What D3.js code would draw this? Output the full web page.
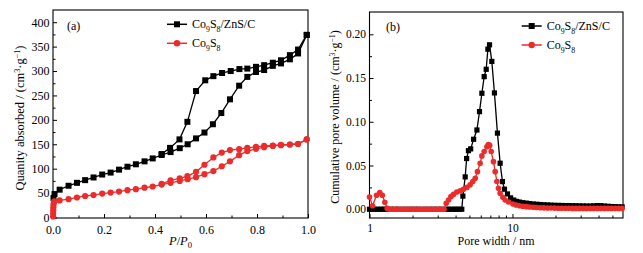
<!DOCTYPE html>
<html><head><meta charset="utf-8">
<script src="https://cdn.jsdelivr.net/npm/d3@7/dist/d3.min.js"></script>
<style>
html,body{margin:0;padding:0;background:#fff;}
svg{display:block;}
text{font-family:"Liberation Serif","Times New Roman",serif;fill:#000;}
</style></head><body>
<svg id="chart" width="643" height="253"></svg>
<script>
// ---------- Panel (a): N2 adsorption/desorption isotherms ----------
const aTicksX = [0, 0.2, 0.4, 0.6, 0.8, 1.0];
const aMinorX = [0.1, 0.3, 0.5, 0.7, 0.9];
const aTicksY = [0, 50, 100, 150, 200, 250, 300, 350, 400];
const aMinorY = [25, 75, 125, 175, 225, 275, 325, 375];

const czAdsP = [0.002,0.006,0.026,0.061,0.094,0.126,0.159,0.193,0.226,0.259,0.292,0.325,0.359,0.391,0.426,0.461,0.497,0.528,0.561,0.594,0.627,0.660,0.694,0.730,0.762,0.796,0.828,0.862,0.894,0.929,0.961,0.995];
const czAdsV = [40,48,57,65,71,76.5,82,88,92,98,104,109,115,121,128,134,142,150,162,174,191,214,242,270,288,298,302,310.6,315.6,324,336,374];
const czDesP = [0.995,0.961,0.929,0.894,0.862,0.828,0.796,0.762,0.731,0.697,0.663,0.629,0.597,0.561,0.527,0.496,0.459,0.426];
const czDesV = [374,344,332.5,322,317,312,308.6,305,304,300,296,289.5,281,259,196,160,142.6,130];

const coAdsP = [0.0003,0.0006,0.001,0.0015,0.002,0.003,0.005,0.026,0.061,0.094,0.126,0.159,0.193,0.226,0.259,0.292,0.325,0.359,0.391,0.426,0.461,0.497,0.528,0.561,0.594,0.629,0.662,0.694,0.730,0.762,0.796,0.828,0.862,0.894,0.929,0.961,0.995];
const coAdsV = [2,8,15,21,26,30,33,35,37.5,41,44,46,49,51,53,56,58,61,63.5,67.5,71,75,78.5,82.6,88.7,95,105,115,127.7,136,140.7,144,146.5,148,149.5,151,160];
const coDesP = [0.995,0.961,0.929,0.894,0.862,0.828,0.796,0.762,0.730,0.694,0.662,0.629,0.594,0.561,0.527,0.497,0.461,0.426];
const coDesV = [160,150.5,149.5,148.8,147.5,146.7,144.7,142.6,140,138,133,123,108,93.5,84.6,80,76,69];

// ---------- Panel (b): pore size distribution ----------
const bTicksX = [1, 10];
const bMinorX = [2,3,4,5,6,7,8,9,20,30,40,50];
const bTicksY = [0, 0.05, 0.10, 0.15, 0.20];
const bMinorY = [0.025, 0.075, 0.125, 0.175];

const czPoreW = [1.0,1.04,1.09,1.14,1.2,1.25,1.3,1.4,1.5,1.6,1.75,1.9,2.05,2.2,2.4,2.6,2.8,3.0,3.2,3.45,3.6,3.77,3.95,4.08,4.25,4.42,4.5,4.67,4.78,4.92,5.1,5.35,5.64,5.88,6.11,6.34,6.55,6.73,6.91,7.17,7.48,7.85,8.2,8.51,8.79,9.23,9.7,10.2,10.7,11.2,11.8,12.5,13.2,14,14.8,15.7,16.6,17.6,18.6,19.7,20.9,22.1,23.4,24.8,26.3,27.8,29.4,31.2,33,35,37,39.2,41.5,44,46.6,49.3,52.2,55.3,58.5];
const czPoreV = [0,0,0,0,0,0,0,0,0,0,0,0,0,0,0,0,0,0,0,0,0,0,0,0,0,0,0.015,0.037,0.058,0.067,0.069,0.080,0.0906,0.1116,0.1326,0.1516,0.160,0.183,0.188,0.169,0.133,0.087,0.0526,0.0316,0.0229,0.0175,0.013,0.0105,0.009,0.0082,0.0075,0.007,0.0065,0.006,0.0057,0.0054,0.0051,0.0049,0.0047,0.0045,0.0044,0.0043,0.0042,0.0042,0.0041,0.004,0.0039,0.0038,0.0037,0.0037,0.0039,0.0042,0.0041,0.0037,0.0034,0.0031,0.003,0.0028,0.0027];

const coPoreW = [1.0,1.05,1.12,1.18,1.23,1.28,1.33,1.38,1.43,1.48,1.53,1.59,1.65,1.71,1.77,1.84,1.91,1.98,2.05,2.13,2.21,2.29,2.38,2.47,2.56,2.66,2.76,2.86,2.97,3.08,3.2,3.32,3.44,3.57,3.71,3.87,4.08,4.31,4.54,4.80,5.06,5.28,5.49,5.69,5.94,6.11,6.34,6.62,6.78,6.93,7.1,7.36,7.57,7.78,7.98,8.2,8.57,8.89,9.38,10.07,10.6,11.2,11.8,12.5,13.2,14,14.8,15.7,16.6,17.6,18.6,19.7,20.9,22.1,23.4,24.8,26.3,27.8,29.4,31.2,33,35,37,39.2,41.5,44,46.6,49.3,52.2,55.3,58.5];
const coPoreV = [0.014,0.004,0.016,0.019,0.016,0.008,0.001,0,0,0,0,0,0,0,0,0,0,0,0,0,0,0,0,0,0,0,0,0,0,0,0,0,0.0069,0.0106,0.0144,0.017,0.0198,0.021,0.0229,0.025,0.0279,0.0317,0.0354,0.043,0.0526,0.061,0.066,0.0715,0.074,0.073,0.066,0.0544,0.043,0.0317,0.024,0.0183,0.0137,0.0106,0.0083,0.006,0.0048,0.004,0.0034,0.003,0.0026,0.0023,0.002,0.0018,0.0016,0.0015,0.0014,0.0013,0.0012,0.0012,0.0011,0.0011,0.001,0.001,0.001,0.001,0.001,0.001,0.001,0.001,0.001,0.001,0.001,0.001,0.001,0.001,0.001];

const BLACK = "#000", RED = "#ec2b2b";
const svg = d3.select("#chart");
svg.append("rect").attr("width",643).attr("height",253).attr("fill","#fff");

function zip(a,b){ return a.map((v,i)=>[v,b[i]]); }

function frameAndAxes(g, x, y, L, R, T, B, opts){
  g.append("g").attr("transform",`translate(0,${B})`)
    .call(d3.axisBottom(x).tickValues(opts.xt).tickSize(-4).tickPadding(opts.xp).tickFormat(opts.xf));
  g.append("g").attr("transform",`translate(0,${B})`)
    .call(d3.axisBottom(x).tickValues(opts.xm).tickSize(-2.5).tickFormat(""));
  g.append("g").attr("transform",`translate(${L},0)`)
    .call(d3.axisLeft(y).tickValues(opts.yt).tickSize(-4).tickPadding(3.5).tickFormat(opts.yf));
  g.append("g").attr("transform",`translate(${L},0)`)
    .call(d3.axisLeft(y).tickValues(opts.ym).tickSize(-2.5).tickFormat(""));
  g.selectAll(".domain").remove();
  g.selectAll(".tick line").attr("stroke","#000").attr("stroke-width",1);
  g.selectAll(".tick text").style("font-family",'"Liberation Serif",serif').style("font-size",opts.fs+"px").attr("fill","#000");
  g.append("rect").attr("x",L).attr("y",T).attr("width",R-L).attr("height",B-T)
    .attr("fill","none").attr("stroke","#000").attr("stroke-width",1.1);
}

function drawSeries(g, x, y, pts, color, shape, sz){
  const line = d3.line().x(d=>x(d[0])).y(d=>y(d[1]));
  g.append("path").datum(pts).attr("d",line).attr("fill","none").attr("stroke",color).attr("stroke-width",1.3);
  if(shape==="square"){
    g.selectAll(null).data(pts).enter().append("rect")
      .attr("x",d=>x(d[0])-sz/2).attr("y",d=>y(d[1])-sz/2).attr("width",sz).attr("height",sz).attr("fill",color);
  } else {
    g.selectAll(null).data(pts).enter().append("circle")
      .attr("cx",d=>x(d[0])).attr("cy",d=>y(d[1])).attr("r",sz/2).attr("fill",color);
  }
}

function chem(textSel, parts, fs){
  let prev = 'n';
  parts.forEach(([t,k])=>{
    const ts = textSel.append("tspan").text(t);
    let dy = 0;
    const off = fs*0.3;
    if(prev==='sub') dy -= off; if(prev==='sup') dy += off*1.2;
    if(k==='sub') dy += off; if(k==='sup') dy -= off*1.2;
    if(dy!==0) ts.attr("dy",dy);
    ts.style("font-size",(k==='n'?fs:fs*0.65)+"px");
    prev = k;
  });
}

function legend(g, x0, y0, dy, fs){
  const items = [
    {c:BLACK, s:"square", parts:[["Co",'n'],["9",'sub'],["S",'n'],["8",'sub'],["/ZnS/C",'n']]},
    {c:RED, s:"circle", parts:[["Co",'n'],["9",'sub'],["S",'n'],["8",'sub']]}
  ];
  items.forEach((it,i)=>{
    const yy = y0 + i*dy;
    g.append("line").attr("x1",x0).attr("x2",x0+20).attr("y1",yy).attr("y2",yy).attr("stroke",it.c).attr("stroke-width",1.5);
    if(it.s==="square") g.append("rect").attr("x",x0+10-3).attr("y",yy-3).attr("width",6).attr("height",6).attr("fill",it.c);
    else g.append("circle").attr("cx",x0+10).attr("cy",yy).attr("r",3.2).attr("fill",it.c);
    const t = g.append("text").attr("x",x0+25).attr("y",yy+4).style("font-size",fs+"px");
    chem(t, it.parts, fs);
  });
}

// ---------- Panel (a) ----------
{
  const L=53, R=308, T=10, B=218;
  const x = d3.scaleLinear().domain([0,1]).range([L,R]);
  const y = d3.scaleLinear().domain([0,425]).range([217.5,10]);
  const g = svg.append("g");
  frameAndAxes(g,x,y,L,R,T,B,{xt:aTicksX,xm:aMinorX,yt:aTicksY,ym:aMinorY,
    xf:d3.format(".1f"), yf:d3.format("d"), fs:12, xp:7});
  drawSeries(g,x,y,zip(czAdsP,czAdsV),BLACK,"square",6);
  drawSeries(g,x,y,zip(czDesP,czDesV),BLACK,"square",6);
  drawSeries(g,x,y,zip(coAdsP,coAdsV),RED,"circle",6.2);
  drawSeries(g,x,y,zip(coDesP,coDesV),RED,"circle",6.2);
  g.append("text").attr("x",67).attr("y",30).style("font-size","12px").text("(a)");
  legend(g,167,24.3,19,12);
  const xt = g.append("text").attr("x",180.5).attr("y",245).attr("text-anchor","middle").style("font-size","12.5px");
  xt.append("tspan").style("font-style","italic").text("P");
  xt.append("tspan").text("/");
  xt.append("tspan").style("font-style","italic").text("P");
  xt.append("tspan").attr("dy",3).style("font-size","8.5px").text("0");
  const yt = g.append("text").attr("transform","translate(24,118) rotate(-90)").attr("text-anchor","middle").style("font-size","12.5px");
  chem(yt, [["Quanity absorbed / (cm",'n'],["3",'sup'],["·g",'n'],["−1",'sup'],[")",'n']], 12.5);
}

// ---------- Panel (b) ----------
{
  const L=369.5, R=623, T=12, B=218;
  const x = d3.scaleLog().domain([1,59.3]).range([L,R]);
  const y = d3.scaleLinear().domain([-0.01,0.2255]).range([218,12]);
  const g = svg.append("g");
  frameAndAxes(g,x,y,L,R,T,B,{xt:bTicksX,xm:bMinorX,yt:bTicksY,ym:bMinorY,
    xf:d3.format("d"), yf:d3.format(".2f"), fs:11.5, xp:6});
  drawSeries(g,x,y,zip(czPoreW,czPoreV),BLACK,"square",5.2);
  drawSeries(g,x,y,zip(coPoreW,coPoreV),RED,"circle",5.6);
  g.append("text").attr("x",386).attr("y",31).style("font-size","12px").text("(b)");
  legend(g,521.7,26,19,12);
  g.append("text").attr("x",496).attr("y",245).attr("text-anchor","middle").style("font-size","12px").text("Pore width / nm");
  const yt = g.append("text").attr("transform","translate(339,117) rotate(-90)").attr("text-anchor","middle").style("font-size","12px");
  chem(yt, [["Cumulative pore volume / (cm",'n'],["3",'sup'],["·g",'n'],["−1",'sup'],[")",'n']], 12);
}
</script>
</body></html>
